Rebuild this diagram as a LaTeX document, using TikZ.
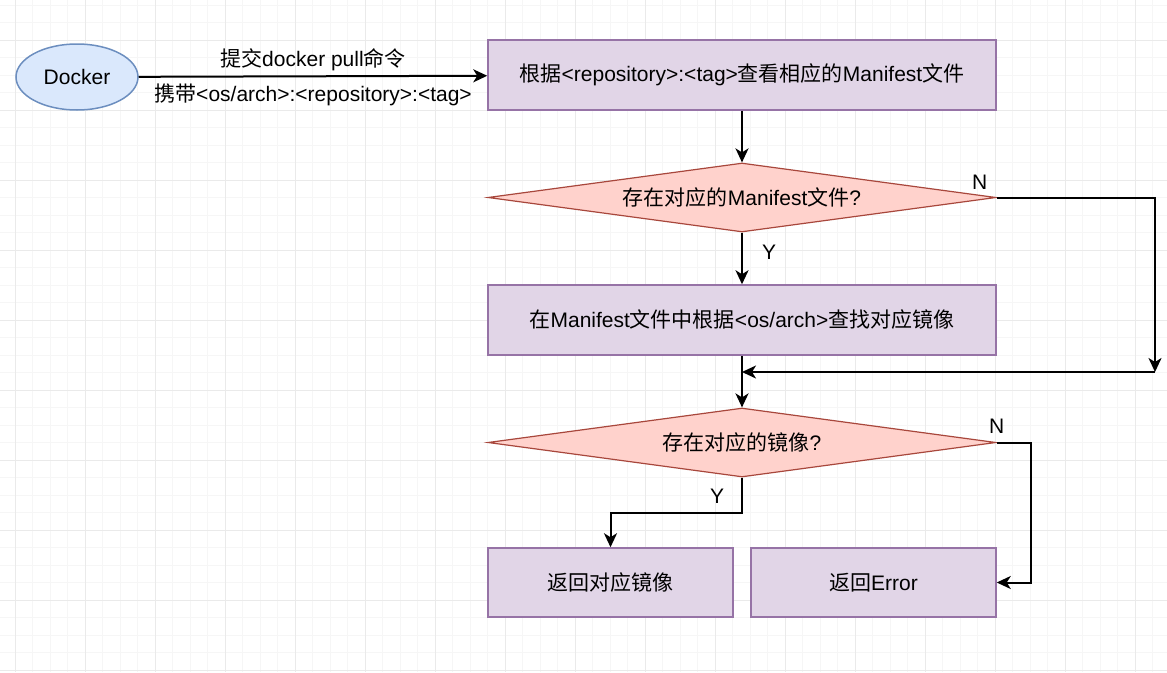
\documentclass[tikz,border=0pt]{standalone}
\usepackage{fontspec}
\setmainfont{Liberation Sans}
\newfontfamily\cjk{Noto Sans CJK SC}
\usetikzlibrary{shapes.geometric,arrows.meta,calc}
\definecolor{boxfill}{HTML}{E1D5E7}
\definecolor{boxline}{HTML}{9673A6}
\definecolor{diafill}{HTML}{FFD2CC}
\definecolor{dialine}{HTML}{A8473C}
\definecolor{ellfill}{HTML}{DAE8FC}
\definecolor{ellline}{HTML}{6C8EBF}
\definecolor{gridminor}{HTML}{F6F6F6}
\definecolor{gridmajor}{HTML}{EAEAEA}
\tikzset{
  txt/.style={font=\fontsize{21}{25}\selectfont, text=black},
  procbox/.style={txt, rectangle, draw=boxline, fill=boxfill, line width=1.5pt, minimum width=508pt, minimum height=70pt, inner sep=0pt},
  smallbox/.style={procbox, minimum width=245pt, minimum height=69pt},
  decision/.style={txt, diamond, aspect=7.36, draw=dialine, fill=diafill, line width=1.2pt, minimum width=508pt, minimum height=69pt, inner sep=0pt},
  startnode/.style={txt, ellipse, draw=ellline, fill=ellfill, line width=1.5pt, minimum width=122pt, minimum height=66pt, inner sep=0pt},
  edge/.style={draw=black, line width=2pt, -{Stealth[length=14pt,width=13pt,inset=4pt]}},
  lbl/.style={txt, inner sep=0pt}
}
\begin{document}
\begin{tikzpicture}[x=1pt,y=-1pt]
\useasboundingbox (0,0) rectangle (1167,672);
\fill[white] (0,0) rectangle (1167,672);
% grid
\foreach \x in {-2.5,15,...,1170} \draw[gridminor, line width=0.8pt] (\x,0) -- (\x,672);
\foreach \y in {5,22.5,...,675} \draw[gridminor, line width=0.8pt] (0,\y) -- (1167,\y);
\foreach \x in {15,85,...,1170} \draw[gridmajor, line width=1pt] (\x,0) -- (\x,672);
\foreach \y in {40,110,...,675} \draw[gridmajor, line width=1pt] (0,\y) -- (1167,\y);

% nodes
\node[startnode] (docker) at (77,77) {Docker};
\node[procbox] (box1) at (742,75) {{\cjk 根据}<repository>:<tag>{\cjk 查看相应的}Manifest{\cjk 文件}};
\node[decision] (d1) at (742,197.5) {{\cjk 存在对应的}Manifest{\cjk 文件}?};
\node[procbox] (box2) at (742,320) {{\cjk 在}Manifest{\cjk 文件中根据}<os/arch>{\cjk 查找对应镜像}};
\node[decision] (d2) at (742,442.5) {{\cjk 存在对应的镜像}?};
\node[smallbox] (ret) at (610.5,582.5) {\cjk 返回对应镜像};
\node[smallbox] (err) at (873.5,582.5) {{\cjk 返回}Error};

\coordinate (j) at (742,372);
\coordinate (r1) at (1155,197.5);
\coordinate (r2) at (1155,372);

% edges
\draw[edge] (docker) -- (box1)
  node[lbl, midway, above=4pt] {{\cjk 提交}docker pull{\cjk 命令}}
  node[lbl, midway, below=7pt] {{\cjk 携带}<os/arch>:<repository>:<tag>};
\draw[edge] (box1) -- (d1);
\draw[edge] (d1) -- (box2);
\node[lbl] at ([xshift=27pt,yshift=-20pt]d1.south) {Y};
\draw[edge] (d1.east) -- (r1) -- (r2);
\node[lbl] at ([xshift=-17pt,yshift=15pt]d1.east) {N};
\draw[edge] (r2) -- (j);
\draw[edge] (box2) -- (d2);
\draw[edge] (d2.south) -- ++(0,35) -| (ret.north);
\node[lbl] at ([xshift=-25pt,yshift=-19pt]d2.south) {Y};
\draw[edge] (d2.east) -- ++(34,0) |- (err.east);
\node[lbl] at ([xshift=0pt,yshift=16pt]d2.east) {N};
\end{tikzpicture}
\end{document}
